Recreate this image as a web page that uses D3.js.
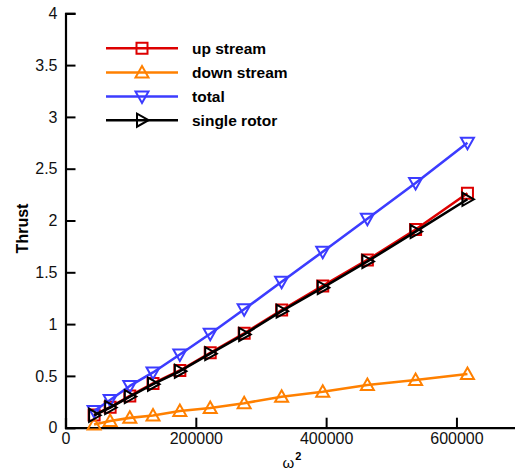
<!DOCTYPE html>
<html>
<head>
<meta charset="utf-8">
<script src="https://cdn.jsdelivr.net/npm/d3@7/dist/d3.min.js"></script>
<style>
  html, body { margin: 0; padding: 0; background: #fff; }
  svg { display: block; font-family: "Liberation Sans", Arial, sans-serif; }
</style>
</head>
<body>
<svg id="chart" width="515" height="473"></svg>
<script>
// Rotor speed squared (rad^2/s^2) for each operating point
const omegaSq = [43900, 68500, 98700, 134300, 175500, 222100, 274200, 331700, 394800, 463300, 537300, 616900];

// Thrust for each rotor configuration
const upStream    = [0.123, 0.197, 0.306, 0.427, 0.552, 0.723, 0.911, 1.136, 1.368, 1.619, 1.913, 2.263];
const downStream  = [0.030, 0.065, 0.095, 0.118, 0.161, 0.190, 0.236, 0.299, 0.347, 0.412, 0.460, 0.518];
const total       = [0.161, 0.267, 0.403, 0.533, 0.707, 0.907, 1.143, 1.409, 1.699, 2.017, 2.362, 2.751];
const singleRotor = [0.120, 0.195, 0.300, 0.420, 0.545, 0.715, 0.900, 1.125, 1.352, 1.605, 1.893, 2.205];

const seriesNames = ["up stream", "down stream", "total", "single rotor"];
const seriesValues = [upStream, downStream, total, singleRotor];
const seriesColors = ["#dd0000", "#ff8000", "#3c3cff", "#000000"];
const seriesMarkers = ["square", "triangleUp", "triangleDown", "triangleRight"];

const xMajorTicks = [0, 200000, 400000, 600000];
const yMajorTicks = [0, 0.5, 1, 1.5, 2, 2.5, 3, 3.5, 4];

const svg = d3.select("#chart");

const x = d3.scaleLinear().domain([0, 700000]).range([65.5, 521.6]);
const y = d3.scaleLinear().domain([0, 4]).range([427.7, 13.3]);

// Marker outlines, centred on the data point
const markerPath = {
  square: "M-5.5,-5.5H5.5V5.5H-5.5Z",
  triangleUp: "M0,-6.5L6.5,5L-6.5,5Z",
  triangleDown: "M0,6.5L6.5,-5L-6.5,-5Z",
  triangleRight: "M6.5,0L-5,-6.5L-5,6.5Z"
};

// ---- axes (ticks point into the plot) ----
const xMinor = d3.range(0, 700001, 50000).filter(v => !xMajorTicks.includes(v));
const yMinor = d3.range(0, 41).map(i => i / 10).filter(v => !yMajorTicks.includes(v));

const axisFont = "16px";

const gx = svg.append("g").attr("transform", `translate(0,${y(0)})`);
gx.call(d3.axisBottom(x).tickValues(xMinor).tickSize(-6).tickFormat(""));
gx.call(d3.axisBottom(x).tickValues(xMajorTicks).tickSize(-10).tickPadding(5).tickFormat(d => String(d)));
gx.selectAll(".domain").attr("stroke", "#000").attr("stroke-width", 2.2);
gx.selectAll(".tick line").attr("stroke", "#000").attr("stroke-width", 1.3);
gx.selectAll(".tick text").attr("fill", "#111").style("font-size", axisFont).attr("y", 5);

const gy = svg.append("g").attr("transform", `translate(${x(0)},0)`);
gy.call(d3.axisLeft(y).tickValues(yMinor).tickSize(-6).tickFormat(""));
gy.call(d3.axisLeft(y).tickValues(yMajorTicks).tickSize(-10).tickPadding(8).tickFormat(d => String(d)));
gy.selectAll(".domain").attr("stroke", "#000").attr("stroke-width", 2.2);
gy.selectAll(".tick line").attr("stroke", "#000").attr("stroke-width", 1.3);
gy.selectAll(".tick text").attr("fill", "#111").style("font-size", axisFont);

// major ticks drawn heavier than minor ones
gx.selectAll(".tick").filter(d => xMajorTicks.includes(d)).select("line").attr("stroke-width", 2);
gy.selectAll(".tick").filter(d => yMajorTicks.includes(d)).select("line").attr("stroke-width", 2);

// ---- axis titles ----
svg.append("text")
  .attr("transform", `translate(28,${(y(0) + y(4)) / 2 + 8}) rotate(-90)`)
  .attr("text-anchor", "middle")
  .style("font-size", "16px").style("font-weight", "bold")
  .text("Thrust");

const xt = svg.append("text")
  .attr("x", 292).attr("y", 468)
  .attr("text-anchor", "middle")
  .style("font-size", "15px");
xt.append("tspan").text("ω");
xt.append("tspan").attr("dy", -8).attr("dx", 1).style("font-size", "11px").style("font-weight", "bold").text("2");

// ---- series ----
const line = d3.line().x(d => x(d[0])).y(d => y(d[1]));

seriesValues.forEach((vals, i) => {
  const pts = omegaSq.map((w, k) => [w, vals[k]]);
  const g = svg.append("g");
  g.append("path")
    .attr("d", line(pts))
    .attr("fill", "none")
    .attr("stroke", seriesColors[i])
    .attr("stroke-width", 2.6)
    .attr("stroke-linejoin", "round");
  g.selectAll("path.marker")
    .data(pts)
    .join("path")
    .attr("class", "marker")
    .attr("transform", d => `translate(${x(d[0])},${y(d[1])})`)
    .attr("d", markerPath[seriesMarkers[i]])
    .attr("fill", "none")
    .attr("stroke", seriesColors[i])
    .attr("stroke-width", 2);
});

// ---- legend ----
const legend = svg.append("g");
const legendRows = [48.3, 72.5, 96.5, 120.2];
seriesNames.forEach((name, i) => {
  const ry = legendRows[i];
  legend.append("line")
    .attr("x1", 106).attr("x2", 178).attr("y1", ry).attr("y2", ry)
    .attr("stroke", seriesColors[i]).attr("stroke-width", 2.6);
  legend.append("path")
    .attr("transform", `translate(142,${ry})`)
    .attr("d", markerPath[seriesMarkers[i]])
    .attr("fill", "none").attr("stroke", seriesColors[i]).attr("stroke-width", 2);
  legend.append("text")
    .attr("x", 192).attr("y", ry + 5.5)
    .style("font-size", "15.5px").style("font-weight", "bold")
    .text(name);
});
</script>
</body>
</html>
